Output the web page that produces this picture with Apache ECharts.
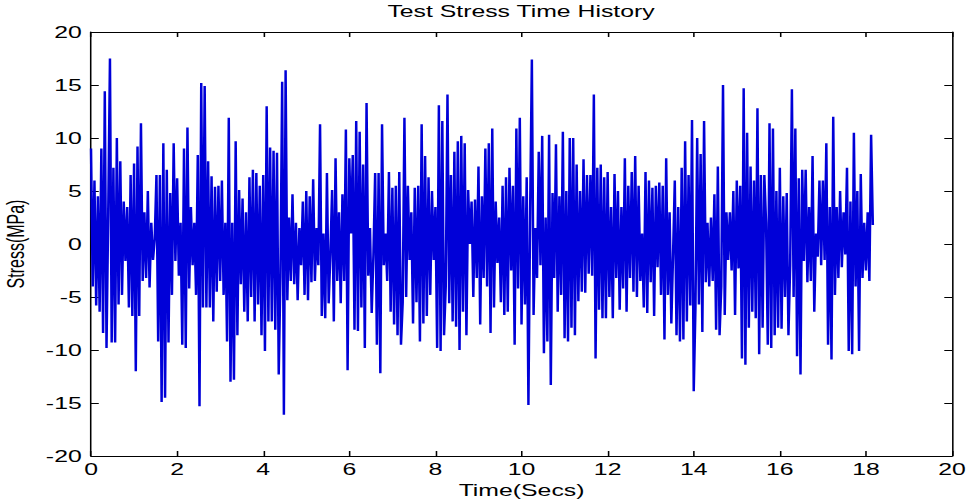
<!DOCTYPE html>
<html>
<head>
<meta charset="utf-8">
<script src="https://cdn.jsdelivr.net/npm/echarts@6/dist/echarts.min.js"></script>
<style>
  html, body { margin: 0; padding: 0; background: #ffffff; overflow: hidden; }
  #wrap { width: 966px; height: 501px; overflow: hidden; }
  #chart { width: 623px; height: 501px; transform: scaleX(1.55056); transform-origin: 0 0; }
</style>
</head>
<body>
<div id="wrap"><div id="chart"></div></div>
<script>
const SAMPLE_DT = 0.04;
const stress_00_02 = [9.0,-4.0,6.0,-5.8,4.5,-6.4,9.0,-8.4,14.4,-9.8,
  3.0,17.5,-9.3,7.2,-9.3,10.0,-5.7,7.8,-4.8,4.0,
  -1.6,3.5,-6.0,6.5,-6.8,7.6,-12.0,9.2,-6.8,11.4,
  -3.5,3.0,-3.2,5.0,-4.1,2.0,-1.5,0.5,6.5,-9.2,
  6.5,-14.9,9.5,-14.5,7.0,-9.3,4.8,-4.8,9.5,-1.6];
const stress_02_04 = [6.2,-3.0,2.0,-9.5,9.0,-9.8,11.0,-4.2,3.5,-2.0,
  2.0,-4.8,8.4,-15.3,15.2,-6.0,14.9,-6.0,7.8,-6.0,
  6.4,-7.3,5.4,-4.5,5.5,-3.5,6.0,-4.8,2.0,-9.2,
  11.9,-13.0,2.0,-12.8,9.7,-8.6,5.1,-3.8,4.3,-6.4,
  3.0,-7.3,6.3,-5.0,7.0,-7.3,6.7,-5.7,5.5,-8.6];
const stress_04_06 = [6.5,-10.1,13.0,-7.3,9.1,-7.3,8.8,-8.1,8.6,-12.3,
  -3.0,15.3,-16.1,16.4,-5.3,2.5,-3.5,4.7,-3.8,2.0,
  -5.3,1.5,-2.0,4.0,-4.8,5.0,-5.3,4.5,-3.6,6.1,
  -3.5,1.5,-2.0,11.3,-6.8,1.0,-7.0,6.7,-5.6,-1.0,
  5.1,-7.3,8.1,-3.5,3.0,-5.6,4.7,-3.5,10.8,-11.9];
const stress_06_08 = [8.1,1.0,8.4,-8.1,11.6,-8.2,10.6,-6.0,7.5,-9.8,
  13.3,-3.0,1.5,-6.5,-1.0,6.7,-9.5,6.7,-12.2,11.3,
  -2.0,1.0,-3.5,6.8,-6.4,5.3,-7.6,5.5,-8.6,6.8,
  -9.5,-5.5,11.9,-5.0,5.5,-1.5,3.0,-7.5,5.3,-5.5,
  5.5,-9.2,11.3,-7.5,8.3,-6.8,6.3,-4.8,5.0,-1.5];
const stress_08_10 = [3.5,-9.8,13.1,-10.1,11.6,-8.6,-4.0,14.1,-5.6,6.5,
  -7.3,8.7,-7.8,9.7,-10.0,10.2,-6.4,9.5,-8.6,5.1,
  0.0,4.0,-5.0,4.2,-3.2,7.3,-7.6,4.5,-3.2,9.0,
  -4.0,9.5,-8.4,10.9,-6.0,4.0,-1.8,2.5,-5.5,5.5,
  -6.7,6.3,-6.4,7.2,-2.5,5.5,-9.5,10.9,-4.2,11.9];
const stress_10_12 = [-7.6,4.5,-5.7,6.3,-15.2,3.0,17.4,-6.7,1.5,-3.2,
  8.7,-2.0,10.2,-10.3,2.5,-9.2,10.3,-13.3,4.8,-3.2,
  9.4,-6.4,4.5,-4.8,10.6,-8.9,5.0,-9.2,10.0,-7.9,
  10.0,-8.6,7.5,-5.4,5.0,-4.5,8.0,-4.6,6.5,-2.8,
  6.5,-3.0,14.1,-10.8,7.2,-6.2,7.5,-7.0,6.3,-7.0];
const stress_12_14 = [6.8,-5.0,3.5,-7.0,6.6,-3.2,5.0,-6.2,3.5,-4.2,
  8.1,-6.4,5.5,-3.2,6.8,-4.5,8.3,-5.0,5.5,-3.5,
  1.0,-6.0,6.8,-6.5,6.0,-3.6,5.3,-6.8,5.5,-2.2,
  5.8,-4.8,5.5,-9.0,8.1,-4.8,3.0,-7.5,-1.0,6.0,
  -8.6,3.5,-9.2,7.2,-9.0,9.7,-7.3,6.5,-5.8,11.7];
const stress_14_16 = [-13.9,-6.0,10.0,-5.7,8.5,-8.3,11.6,-3.6,2.0,-4.0,
  2.5,-3.5,4.7,-8.1,7.3,-8.6,-4.0,15.0,-6.7,3.0,
  -1.5,3.0,-2.5,5.0,-6.7,6.0,-2.3,5.5,-10.8,14.7,
  -11.4,10.5,-7.9,7.3,-6.4,6.0,-7.0,12.8,-10.4,6.5,
  -7.9,6.5,2.0,-9.5,11.4,-9.8,10.9,-8.6,5.0,-7.9];
const stress_16_18 = [7.2,-8.0,4.5,-5.0,4.8,-8.6,-2.0,14.6,-5.0,10.9,
  -10.6,6.2,-12.3,7.0,-1.6,7.0,-3.6,3.5,-3.5,8.3,
  -6.4,1.0,-1.2,6.0,-2.0,6.0,-1.5,9.5,-9.5,3.5,
  -10.9,12.0,-4.8,3.5,-3.2,5.0,-2.2,3.0,-1.0,7.2,
  -10.1,4.0,-10.4,10.5,-4.0,5.0,-10.1,6.6,-3.2,2.0,
  -2.5,3.0,-3.5,10.3,1.8];
const xTicks = [0, 2, 4, 6, 8, 10, 12, 14, 16, 18, 20];
const yTicks = [-20, -15, -10, -5, 0, 5, 10, 15, 20];
const titleText = 'Test Stress Time History';
const xName = 'Time(Secs)';
const yName = 'Stress(MPa)';

// ---- build series data ----
const stressAll = [].concat(stress_00_02, stress_02_04, stress_04_06, stress_06_08,
  stress_08_10, stress_10_12, stress_12_14, stress_14_16, stress_16_18);
const seriesData = stressAll.map((v, i) => [+(i * SAMPLE_DT).toFixed(2), v]);

const FONT = '"Liberation Sans", Arial, Helvetica, sans-serif';
const axisCommon = {
  type: 'value',
  splitLine: { show: false },
  axisLine: { show: true, onZero: false, lineStyle: { color: '#000', width: 1 } },
  axisTick: { show: true, inside: true, length: 5, lineStyle: { color: '#000', width: 1 } }
};

const chart = echarts.init(document.getElementById('chart'), null, { renderer: 'svg' });
chart.setOption({
  animation: false,
  backgroundColor: '#ffffff',
  title: {
    text: titleText,
    left: 336,
    top: 3,
    padding: 0,
    textAlign: 'center',
    textStyle: { fontFamily: FONT, fontSize: 16, fontWeight: 'normal', color: '#000' }
  },
  grid: { left: 58.7, right: 9.0, top: 32, bottom: 45, containLabel: false, outerBoundsMode: 'none' },
  xAxis: [
    Object.assign({}, axisCommon, {
      position: 'bottom', min: xTicks[0], max: xTicks[xTicks.length - 1], interval: xTicks[1] - xTicks[0],
      name: xName, nameLocation: 'middle', nameGap: 20,
      nameTextStyle: { fontFamily: FONT, fontSize: 16, color: '#000' },
      axisLabel: { show: true, margin: 5, fontFamily: FONT, fontSize: 16, color: '#000' }
    }),
    Object.assign({}, axisCommon, {
      position: 'top', min: xTicks[0], max: xTicks[xTicks.length - 1], interval: xTicks[1] - xTicks[0],
      axisLabel: { show: false }
    })
  ],
  yAxis: [
    Object.assign({}, axisCommon, {
      position: 'left', min: yTicks[0], max: yTicks[yTicks.length - 1], interval: yTicks[1] - yTicks[0],
      name: yName, nameLocation: 'middle', nameGap: 41,
      nameTextStyle: { fontFamily: FONT, fontSize: 16, color: '#000' },
      axisLabel: { show: true, margin: 6, fontFamily: FONT, fontSize: 16, color: '#000' }
    }),
    Object.assign({}, axisCommon, {
      position: 'right', min: yTicks[0], max: yTicks[yTicks.length - 1], interval: yTicks[1] - yTicks[0],
      axisLabel: { show: false }
    })
  ],
  series: [{
    type: 'line',
    data: seriesData,
    xAxisIndex: 0,
    yAxisIndex: 0,
    showSymbol: false,
    symbol: 'none',
    sampling: null,
    lineStyle: { color: '#0000d8', width: 1.6 },
    emphasis: { disabled: true }
  }]
});
</script>
</body>
</html>
